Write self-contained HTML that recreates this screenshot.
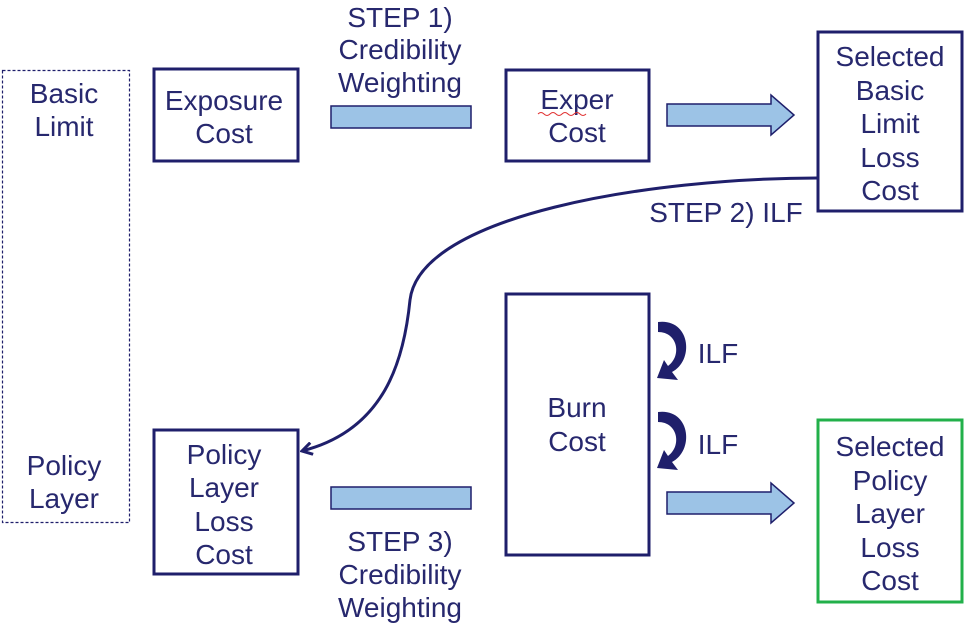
<!DOCTYPE html>
<html><head><meta charset="utf-8"><style>
html,body{margin:0;padding:0;background:#fff;}
svg{display:block;}
text{font-family:"Liberation Sans",Arial,sans-serif;font-size:28px;fill:#27286e;text-anchor:middle;}
</style></head><body>
<svg width="964" height="631" viewBox="0 0 964 631">
<defs>
<marker id="ah" markerWidth="14" markerHeight="14" refX="12" refY="7" orient="auto" markerUnits="userSpaceOnUse">
<path d="M2,1 L12,7 L2,13" fill="none" stroke="#1f1f6b" stroke-width="3"/>
</marker>
</defs>
<g fill="none" stroke="#1f1f6b" stroke-width="3">
<rect x="2.5" y="70.5" width="127" height="452" stroke-width="1.2" stroke-dasharray="3,2"/>
<rect x="154" y="69" width="144" height="92"/>
<rect x="506" y="70" width="143" height="91"/>
<rect x="818" y="32" width="144" height="179"/>
<rect x="506" y="294" width="143" height="261"/>
<rect x="154" y="430" width="144" height="144"/>
<rect x="818" y="420" width="144" height="182" stroke="#22b04a"/>
<path d="M818,178 C650,178 420,215 410,300 C404,360 385,430 302,451" stroke-width="3" marker-end="url(#ah)"/>
</g>
<g fill="#9cc3e6" stroke="#1f1f6b" stroke-width="1.5">
<rect x="331" y="106" width="140" height="22"/>
<rect x="331" y="487" width="140" height="22"/>
<path d="M667,104 H771 V95 L794,115 L771,135 V126 H667 Z"/>
<path d="M667,492 H771 V483 L794,503 L771,523 V514 H667 Z"/>
</g>
<g fill="#1f1f6b">
<path d="M658,322 C690,318 695,360 672,372 L678,380 L657,378 L664,360 L668,366 C682,356 678,332 658,332 Z"/>
<path d="M658,412 C690,408 695,450 672,462 L678,470 L657,468 L664,450 L668,456 C682,446 678,422 658,422 Z"/>
</g>
<text x="64" y="103">Basic</text><text x="64" y="136">Limit</text>
<text x="64" y="475">Policy</text><text x="64" y="508">Layer</text>
<text x="224" y="110">Exposure</text><text x="224" y="143">Cost</text>
<text x="400" y="27">STEP 1)</text><text x="400" y="59">Credibility</text><text x="400" y="92">Weighting</text>
<text x="577" y="109">Exper</text><text x="577" y="142">Cost</text>
<path d="M538,114 q3,-3 6,0 t6,0 t6,0 t6,0 t6,0 t6,0 t6,0 t6,0" fill="none" stroke="#e03030" stroke-width="1"/>
<text x="890" y="66">Selected</text><text x="890" y="100">Basic</text><text x="890" y="133">Limit</text><text x="890" y="167">Loss</text><text x="890" y="200">Cost</text>
<text x="726" y="222">STEP 2) ILF</text>
<text x="577" y="417">Burn</text><text x="577" y="451">Cost</text>
<text x="718" y="363">ILF</text><text x="718" y="454">ILF</text>
<text x="224" y="464">Policy</text><text x="224" y="497">Layer</text><text x="224" y="531">Loss</text><text x="224" y="564">Cost</text>
<text x="400" y="551">STEP 3)</text><text x="400" y="584">Credibility</text><text x="400" y="617">Weighting</text>
<text x="890" y="456">Selected</text><text x="890" y="490">Policy</text><text x="890" y="523">Layer</text><text x="890" y="557">Loss</text><text x="890" y="590">Cost</text>
</svg>
</body></html>
